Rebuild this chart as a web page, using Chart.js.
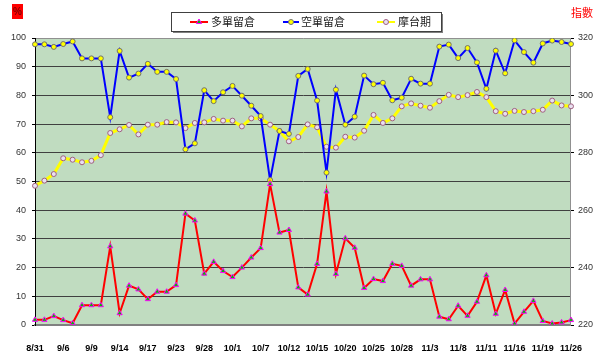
<!DOCTYPE html>
<html>
<head>
<meta charset="utf-8">
<script src="https://cdn.jsdelivr.net/npm/chart.js@4/dist/chart.umd.min.js"></script>
<style>
  html, body { margin: 0; padding: 0; background: #fff; }
  #wrap { width: 600px; height: 364px; position: relative; }
</style>
</head>
<body>
<div id="wrap"><canvas id="myChart"></canvas></div>
<script>
// trading days
var dates = ['8/31','9/3','9/4','9/6','9/7','9/8','9/9','9/10','9/13','9/14',
  '9/15','9/16','9/17','9/20','9/21','9/23','9/24','9/27','9/28','9/29',
  '9/30','10/1','10/4','10/5','10/7','10/8','10/11','10/12','10/13','10/14',
  '10/15','10/18','10/19','10/20','10/21','10/22','10/25','10/26','10/27','10/28',
  '10/29','11/1','11/3','11/4','11/5','11/8','11/9','11/10','11/11','11/12',
  '11/15','11/16','11/17','11/18','11/19','11/22','11/24','11/26'];

// 多單留倉 (%)
var longOI = [1.8, 1.8, 3.1, 1.7, 0.6, 6.9, 6.9, 6.9, 27.4, 4.1,
  13.7, 12.4, 9.0, 11.6, 11.6, 13.9, 38.8, 36.4, 17.9, 22.0,
  18.8, 16.7, 20.0, 23.5, 26.8, 49.1, 32.2, 33.1, 13.1, 10.6,
  21.3, 46.5, 17.8, 30.2, 26.9, 12.9, 16.0, 15.3, 21.3, 20.6,
  13.7, 15.9, 15.9, 2.9, 2.0, 6.7, 3.2, 8.1, 17.3, 3.9,
  12.2, 0.5, 4.6, 8.4, 1.4, 0.5, 0.9, 1.7];

// 空單留倉 (%)
var shortOI = [97.8, 97.8, 96.9, 97.9, 98.8, 92.9, 92.9, 92.9, 72.4, 95.5,
  86.2, 87.6, 91.0, 88.2, 88.2, 85.7, 61.2, 63.3, 81.8, 78.0,
  81.1, 83.3, 79.9, 76.4, 72.8, 50.5, 67.6, 66.6, 86.8, 89.2,
  78.2, 53.1, 82.0, 69.8, 72.6, 86.9, 83.9, 84.4, 78.3, 79.2,
  85.8, 84.1, 84.1, 97.0, 97.7, 93.0, 96.5, 91.5, 82.3, 95.6,
  87.7, 99.2, 95.1, 91.4, 98.1, 99.1, 98.6, 97.9];

// 摩台期 (指數)
var msci = [268.5, 270.3, 272.6, 278.1, 277.6, 276.7, 277.2, 279.2, 286.9, 288.2,
  289.7, 286.4, 289.8, 289.8, 290.7, 290.6, 288.6, 290.4, 290.6, 291.8,
  291.2, 291.2, 289.2, 292.0, 292.0, 289.8, 287.6, 284.0, 285.5, 289.9,
  288.9, 282.1, 281.8, 285.6, 285.3, 287.7, 293.2, 290.4, 292.0, 296.2,
  297.2, 296.4, 295.7, 298.0, 300.2, 299.4, 300.1, 301.2, 299.4, 294.5,
  293.6, 294.6, 294.2, 294.5, 295.0, 298.2, 296.5, 296.2];

var seriesNames = ['多單留倉', '空單留倉', '摩台期'];

var cjk = '"Noto Sans CJK TC", "Noto Sans CJK SC", sans-serif';

var bgPlugin = {
  id: 'plotBg',
  beforeDraw: function(chart) {
    var a = chart.chartArea, ctx = chart.ctx;
    ctx.save();
    ctx.fillStyle = '#c0dcc0';
    ctx.fillRect(a.left, a.top, a.right - a.left, a.bottom - a.top);
    ctx.restore();
  },
  afterDraw: function(chart) {
    var ctx = chart.ctx;
    ctx.save();
    // unit labels
    ctx.fillStyle = '#ff0000';
    ctx.fillRect(12, 4, 11, 15);
    ctx.fillStyle = '#800000';
    ctx.font = 'bold 10px "Liberation Sans", Arial, sans-serif';
    ctx.textAlign = 'center';
    ctx.textBaseline = 'middle';
    ctx.fillText('%', 17.5, 12);
    ctx.fillStyle = '#ff0000';
    ctx.font = '11px ' + cjk;
    ctx.fillText('指數', 582, 13);

    // legend box
    var bx = 171, by = 12, bw = 270, bh = 19;
    ctx.fillStyle = '#808080';
    ctx.fillRect(bx + 2, by + 2, bw, bh);
    ctx.fillStyle = '#ffffff';
    ctx.fillRect(bx, by, bw, bh);
    ctx.strokeStyle = '#404040';
    ctx.lineWidth = 1;
    ctx.strokeRect(bx + 0.5, by + 0.5, bw, bh);

    var items = [
      { x1: 190, x2: 208, tx: 211 },
      { x1: 283, x2: 299, tx: 301 },
      { x1: 377, x2: 395, tx: 398 }
    ];
    var cy = by + bh / 2 + 0.5;
    items.forEach(function(it, i) {
      var ds = chart.data.datasets[i];
      ctx.strokeStyle = ds.borderColor;
      ctx.lineWidth = 2;
      ctx.beginPath();
      ctx.moveTo(it.x1, cy);
      ctx.lineTo(it.x2, cy);
      ctx.stroke();
      ctx.fillStyle = ds.pointBackgroundColor;
      ctx.strokeStyle = ds.pointBorderColor;
      ctx.lineWidth = 1;
      Chart.helpers.drawPoint(ctx, {
        pointStyle: ds.pointStyle, radius: ds.pointRadius, rotation: 0, borderWidth: 1
      }, (it.x1 + it.x2) / 2, cy);
      ctx.fillStyle = '#202020';
      ctx.font = '11px ' + cjk;
      ctx.textAlign = 'left';
      ctx.textBaseline = 'middle';
      ctx.fillText(seriesNames[i], it.tx, cy);
    });
    ctx.restore();
  }
};

var ctx = document.getElementById('myChart').getContext('2d');
var myChart = new Chart(ctx, {
  type: 'line',
  data: {
    labels: dates,
    datasets: [{
      label: seriesNames[0],
      data: longOI,
      yAxisID: 'yL',
      borderColor: '#ff0000',
      borderWidth: 2,
      pointStyle: 'triangle',
      pointRadius: 3,
      pointBackgroundColor: '#00c000',
      pointBorderColor: '#ff00ff',
      pointBorderWidth: 1,
      tension: 0
    }, {
      label: seriesNames[1],
      data: shortOI,
      yAxisID: 'yL',
      borderColor: '#0000ff',
      borderWidth: 2,
      pointStyle: 'circle',
      pointRadius: 2.5,
      pointBackgroundColor: '#ffff00',
      pointBorderColor: '#707070',
      pointBorderWidth: 1,
      tension: 0
    }, {
      label: seriesNames[2],
      data: msci,
      yAxisID: 'yR',
      borderColor: '#ffff00',
      borderWidth: 3,
      pointStyle: 'circle',
      pointRadius: 2.5,
      pointBackgroundColor: '#e8e0f0',
      pointBorderColor: '#a06080',
      pointBorderWidth: 1,
      tension: 0
    }]
  },
  options: {
    responsive: true,
    maintainAspectRatio: false,
    animation: false,
    layout: { padding: { top: 38, left: 0, right: 0, bottom: 0 } },
    plugins: { legend: { display: false }, tooltip: { enabled: false } },
    scales: {
      x: {
        grid: { display: false, drawTicks: false },
        border: { color: '#808080', width: 2 },
        ticks: {
          autoSkip: false,
          maxRotation: 0,
          padding: 18,
          color: '#000',
          font: { size: 9, weight: 'bold', family: '"Liberation Sans", Arial, sans-serif' },
          callback: function(v, i) { return i % 3 === 0 ? dates[i] : ''; }
        },
        afterFit: function(s) { s.height = 39; }
      },
      yL: {
        position: 'left',
        min: 0, max: 100,
        grid: {
          color: function(c) { return (c.tick.value === 0 || c.tick.value === 100) ? '#909090' : '#404040'; },
          lineWidth: 1,
          tickLength: 3,
          tickColor: '#000'
        },
        border: { color: '#000', width: 1 },
        ticks: {
          stepSize: 10,
          padding: 6,
          color: '#333',
          font: { size: 9, family: '"Liberation Sans", Arial, sans-serif' }
        },
        afterFit: function(s) { s.width = 35; }
      },
      yR: {
        position: 'right',
        min: 220, max: 320,
        grid: { drawOnChartArea: false, tickLength: 3, tickColor: '#000' },
        border: { color: '#909090', width: 1 },
        ticks: {
          stepSize: 20,
          padding: 4,
          color: '#333',
          font: { size: 9, family: '"Liberation Sans", Arial, sans-serif' }
        },
        afterFit: function(s) { s.width = 25; }
      }
    }
  },
  plugins: [bgPlugin]
});
</script>
</body>
</html>
